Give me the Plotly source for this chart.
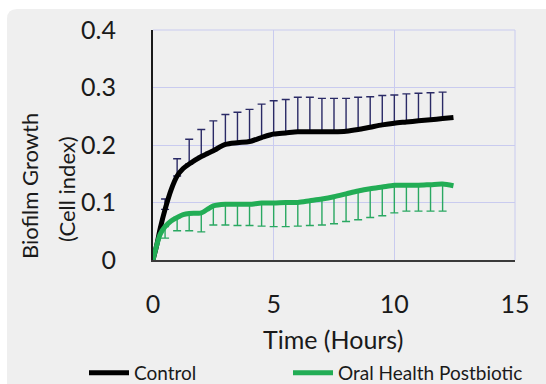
import plotly.graph_objects as go

# ---- data ----
time_h = [0, 0.15, 0.3, 0.5, 0.75, 1.0, 1.25, 1.5, 2.0, 2.25, 2.5, 3.0, 3.5, 4.0, 4.5, 5.0,
          5.5, 6.0, 6.5, 7.0, 7.5, 8.0, 8.5, 9.0, 9.5, 10.0, 10.5, 11.0, 11.5, 12.0, 12.45]
control = [0, 0.025, 0.055, 0.088, 0.122, 0.146, 0.159, 0.167, 0.180, 0.185, 0.190, 0.201,
           0.204, 0.206, 0.213, 0.219, 0.221, 0.223, 0.223, 0.223, 0.223, 0.224, 0.227,
           0.231, 0.235, 0.238, 0.240, 0.242, 0.244, 0.246, 0.248]
postbiotic = [0, 0.025, 0.045, 0.058, 0.068, 0.074, 0.079, 0.081, 0.082, 0.088, 0.094, 0.097,
              0.097, 0.097, 0.099, 0.099, 0.100, 0.100, 0.103, 0.106, 0.110, 0.115, 0.120,
              0.124, 0.127, 0.130, 0.130, 0.130, 0.131, 0.132, 0.129]

bar_times = [0.5, 1.0, 1.5, 2.0, 2.5, 3.0, 3.5, 4.0, 4.5, 5.0, 5.5, 6.0, 6.5, 7.0, 7.5, 8.0,
             8.5, 9.0, 9.5, 10.0, 10.5, 11.0, 11.5, 12.0]
control_upper = [0.106, 0.176, 0.210, 0.227, 0.242, 0.253, 0.257, 0.262, 0.271, 0.277, 0.279,
                 0.283, 0.283, 0.281, 0.281, 0.281, 0.283, 0.284, 0.286, 0.287, 0.289, 0.290,
                 0.291, 0.292]
postbiotic_lower = [0.038, 0.051, 0.051, 0.049, 0.061, 0.061, 0.060, 0.060, 0.059, 0.058, 0.058,
                    0.059, 0.060, 0.061, 0.063, 0.067, 0.070, 0.074, 0.077, 0.082, 0.085, 0.085,
                    0.085, 0.085]

x_ticks = [0, 5, 10, 15]
y_ticks = [0, 0.1, 0.2, 0.3, 0.4]
y_tick_text = ["0", "0.1", "0.2", "0.3", "0.4"]

FONT = "Lato"
BLACK = "#000000"
GREEN = "#22ad55"
NAVY = "#2a2a66"
ERR_GREEN = "#2aa862"
GRID = "#c9cbef"
CARD = "#efefef"

idx = [time_h.index(t) for t in bar_times]
ctrl_at_bars = [control[i] for i in idx]
post_at_bars = [postbiotic[i] for i in idx]
ctrl_err = [u - m for u, m in zip(control_upper, ctrl_at_bars)]
post_err = [m - l for l, m in zip(postbiotic_lower, post_at_bars)]

fig = go.Figure()

# error bars (drawn beneath the lines)
fig.add_trace(go.Scatter(
    x=bar_times, y=ctrl_at_bars, mode="markers", marker=dict(size=0.1, color="rgba(0,0,0,0)"),
    error_y=dict(type="data", array=ctrl_err, arrayminus=[0] * len(ctrl_err), symmetric=False,
                 color=NAVY, thickness=1.4, width=4),
    showlegend=False, hoverinfo="skip"))
fig.add_trace(go.Scatter(
    x=bar_times, y=post_at_bars, mode="markers", marker=dict(size=0.1, color="rgba(0,0,0,0)"),
    error_y=dict(type="data", array=[0] * len(post_err), arrayminus=post_err, symmetric=False,
                 color=ERR_GREEN, thickness=1.4, width=4),
    showlegend=False, hoverinfo="skip"))

fig.add_trace(go.Scatter(x=time_h, y=control, mode="lines", name="Control", legend="legend",
                         line=dict(color=BLACK, width=5, shape="spline", smoothing=0.8)))
fig.add_trace(go.Scatter(x=time_h, y=postbiotic, mode="lines", name="Oral Health Postbiotic",
                         legend="legend2",
                         line=dict(color=GREEN, width=5, shape="spline", smoothing=0.8)))

# card background with rounded corner
def px_x(p):
    return (p - 153) / 362.0

def px_y(p):
    return (260 - p) / 230.0

x0, xt, yt, yb = px_x(7), px_x(600), px_y(9), px_y(420)
rx, ry = 10 / 362.0, 10 / 230.0
card_path = (f"M {x0},{yb} L {x0},{yt - ry} Q {x0},{yt} {x0 + rx},{yt} "
             f"L {xt},{yt} L {xt},{yb} Z")

legend_common = dict(orientation="h", xanchor="left", yanchor="middle",
                     font=dict(size=19, family=FONT), bgcolor="rgba(0,0,0,0)", itemwidth=40)

fig.update_layout(
    width=546, height=384,
    margin=dict(l=153, r=31, t=30, b=124, autoexpand=False),
    paper_bgcolor="white",
    plot_bgcolor="rgba(0,0,0,0)",
    font=dict(family=FONT, color="#1a1a1a"),
    shapes=[dict(type="path", path=card_path, xref="paper", yref="paper",
                 fillcolor=CARD, line=dict(width=0), layer="below")],
    showlegend=True,
    legend=dict(x=px_x(84), y=px_y(373), **legend_common),
    legend2=dict(x=px_x(288), y=px_y(373), **legend_common),
    annotations=[
        dict(text="Time (Hours)", x=px_x(333), y=px_y(339), xref="paper", yref="paper",
             showarrow=False, font=dict(size=25, family=FONT), xanchor="center", yanchor="middle"),
        dict(text="Biofilm Growth", x=px_x(29), y=px_y(186), xref="paper", yref="paper",
             showarrow=False, font=dict(size=22, family=FONT), textangle=-90,
             xanchor="center", yanchor="middle"),
        dict(text="(Cell index)", x=px_x(66), y=px_y(189), xref="paper", yref="paper",
             showarrow=False, font=dict(size=22, family=FONT), textangle=-90,
             xanchor="center", yanchor="middle"),
    ],
)

fig.update_xaxes(range=[0, 15], tickvals=x_ticks, showgrid=True, gridcolor=GRID, gridwidth=1,
                 showline=True, linecolor="#3a3a3a", linewidth=1.5, mirror=False,
                 zeroline=False, ticks="", tickfont=dict(size=25, family=FONT),
                 ticklabelstandoff=21, fixedrange=True, automargin=False)
fig.update_yaxes(range=[0, 0.4], tickvals=y_ticks, ticktext=y_tick_text, showgrid=True,
                 gridcolor=GRID, gridwidth=1, showline=True, linecolor="#1a1a1a", linewidth=2,
                 zeroline=False, ticks="", tickfont=dict(size=25, family=FONT),
                 ticklabelstandoff=30, fixedrange=True, automargin=False)

# right and top plot borders in grid colour
fig.add_shape(type="line", xref="paper", yref="paper", x0=1, x1=1, y0=0, y1=1,
              line=dict(color=GRID, width=1))
fig.add_shape(type="line", xref="paper", yref="paper", x0=0, x1=1, y0=1, y1=1,
              line=dict(color=GRID, width=1))

fig.write_html("out.html", config={"displayModeBar": False},
               post_script="document.body.style.margin='0px';")
